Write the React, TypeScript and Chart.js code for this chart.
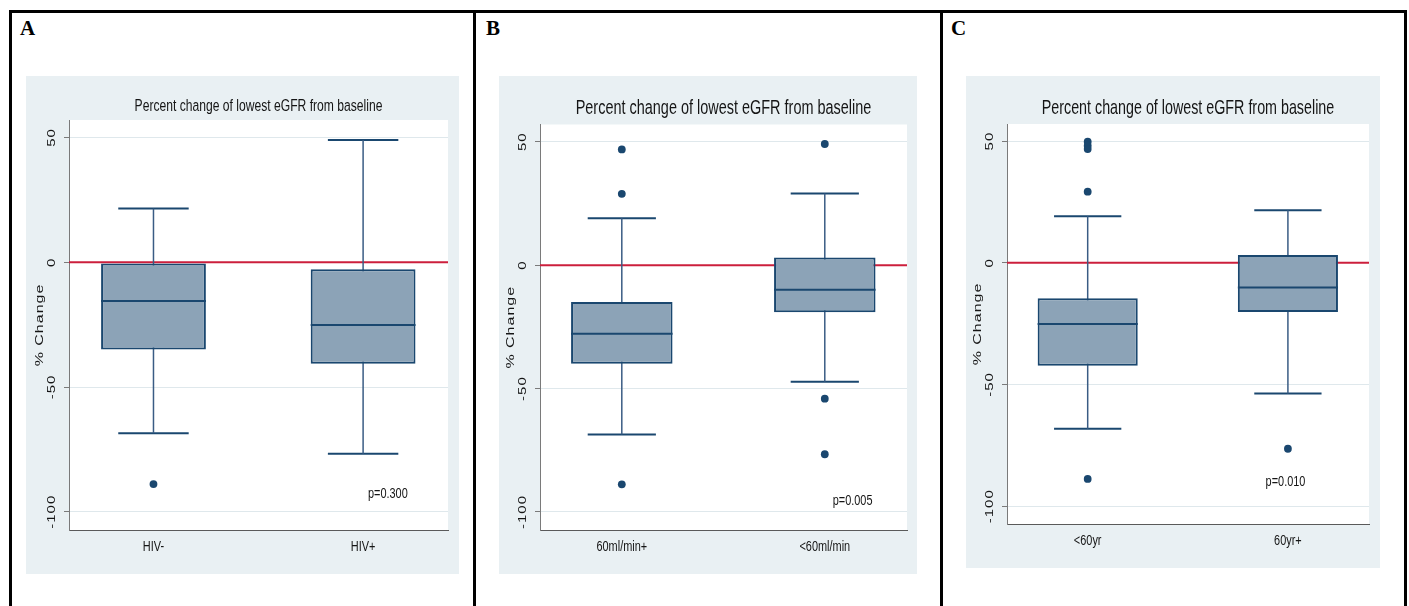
import React, { useEffect, useRef } from 'react';
import { Chart, registerables } from 'chart.js';

Chart.register(...registerables);

// ---------- data ----------
const TITLE = 'Percent change of lowest eGFR from baseline';
const Y_AXIS_TITLE = '% Change';
const Y_TICKS = [50, 0, -50, -100];
const REFERENCE_VALUE = 0;

const A_GROUPS = ['HIV-', 'HIV+'];
const A_UPPER = [21.5, 49.0];
const A_Q3 = [-0.5, -2.8];
const A_MEDIAN = [-15.5, -25.2];
const A_Q1 = [-35.0, -40.7];
const A_LOWER = [-68.5, -76.7];
const A_OUTLIERS = [[-88.9], []];
const A_P = 'p=0.300';

const B_GROUPS = ['60ml/min+', '<60ml/min'];
const B_UPPER = [19.0, 29.0];
const B_Q3 = [-14.9, 3.1];
const B_MEDIAN = [-27.8, -10.0];
const B_Q1 = [-39.9, -19.1];
const B_LOWER = [-68.6, -47.2];
const B_OUTLIERS = [[46.9, 28.9, -88.8], [49.1, -54.1, -76.6]];
const B_P = 'p=0.005';

const C_GROUPS = ['<60yr', '60yr+'];
const C_UPPER = [19.1, 21.6];
const C_Q3 = [-14.6, 3.2];
const C_MEDIAN = [-25.1, -10.2];
const C_Q1 = [-42.3, -20.2];
const C_LOWER = [-68.2, -53.7];
const C_OUTLIERS = [[49.7, 48.1, 46.7, 29.2, -88.8], [-76.4]];
const C_P = 'p=0.010';

// ---------- styles / layout ----------
const X_MIN = 0.597;
const X_MAX = 2.405;
const Y_MIN = -107.3;
const Y_MAX = 57;
const BOX_HALF = 0.25;
const CAP_HALF = 0.168;

const BG = '#e9f0f3';
const GRID = '#dfe8ec';
const NAVY = '#1a476f';
const WHISKER = '#3a5c84';
const FILL = '#8ca3b7';
const RED = '#cc1f3c';
const TEXT = '#151515';
const FONT = '"Liberation Sans", Arial, sans-serif';
const SQUEEZE = 0.705;

type PanelCfg = {
  letter: string;
  groups: string[];
  upper: number[];
  q3: number[];
  median: number[];
  q1: number[];
  lower: number[];
  outliers: number[][];
  pText: string;
  pPos: { x: number; y: number };
  rect: { left: number; top: number; w: number; h: number };
  yAxisW: number;
  xAxisH: number;
  padTop: number;
  padRight: number;
  titleSize: number;
  titleGap: number;
  letterLeft: number;
};

const PANELS: PanelCfg[] = [
  {
    letter: 'A', groups: A_GROUPS, upper: A_UPPER, q3: A_Q3, median: A_MEDIAN, q1: A_Q1, lower: A_LOWER,
    outliers: A_OUTLIERS, pText: A_P, pPos: { x: 2.118, y: -92.6 },
    rect: { left: 26, top: 76, w: 433, h: 498 }, yAxisW: 43, xAxisH: 44, padTop: 44, padRight: 11,
    titleSize: 17.2, titleGap: 14, letterLeft: 20,
  },
  {
    letter: 'B', groups: B_GROUPS, upper: B_UPPER, q3: B_Q3, median: B_MEDIAN, q1: B_Q1, lower: B_LOWER,
    outliers: B_OUTLIERS, pText: B_P, pPos: { x: 2.137, y: -95.5 },
    rect: { left: 499, top: 76, w: 418, h: 498 }, yAxisW: 41, xAxisH: 44, padTop: 48.5, padRight: 10,
    titleSize: 20.5, titleGap: 16, letterLeft: 486,
  },
  {
    letter: 'C', groups: C_GROUPS, upper: C_UPPER, q3: C_Q3, median: C_MEDIAN, q1: C_Q1, lower: C_LOWER,
    outliers: C_OUTLIERS, pText: C_P, pPos: { x: 1.988, y: -90.0 },
    rect: { left: 966, top: 76, w: 414, h: 492 }, yAxisW: 41, xAxisH: 44, padTop: 48, padRight: 11,
    titleSize: 20.3, titleGap: 15.5, letterLeft: 951,
  },
];

function drawText(
  ctx: CanvasRenderingContext2D, text: string, x: number, y: number, size: number,
  rotated = false, spacing = 0,
) {
  ctx.save();
  ctx.translate(x, y);
  if (rotated) {
    ctx.rotate(-Math.PI / 2);
    ctx.scale(1, SQUEEZE);
  } else {
    ctx.scale(SQUEEZE, 1);
  }
  ctx.font = `${size}px ${FONT}`;
  (ctx as any).letterSpacing = `${spacing}px`;
  ctx.textAlign = 'center';
  ctx.textBaseline = 'middle';
  ctx.fillStyle = TEXT;
  ctx.fillText(text, 0, 0);
  ctx.restore();
}

function seg(x1: number, y1: number, x2: number, y2: number, color: string, width: number, order: number) {
  return {
    type: 'line' as const,
    data: [{ x: x1, y: y1 }, { x: x2, y: y2 }],
    borderColor: color,
    borderWidth: width,
    pointRadius: 0,
    pointHoverRadius: 0,
    tension: 0,
    fill: false,
    order,
  };
}

function Panel({ cfg }: { cfg: PanelCfg }) {
  const ref = useRef<HTMLCanvasElement>(null);
  useEffect(() => {
    const canvas = ref.current!;
    const datasets: any[] = [];
    datasets.push(seg(X_MIN, REFERENCE_VALUE, X_MAX, REFERENCE_VALUE, RED, 2, 20));
    cfg.groups.forEach((_, i) => {
      const c = i + 1;
      datasets.push(seg(c, cfg.lower[i], c, cfg.upper[i], WHISKER, 1.5, 15));
      datasets.push(seg(c - CAP_HALF, cfg.upper[i], c + CAP_HALF, cfg.upper[i], NAVY, 2, 15));
      datasets.push(seg(c - CAP_HALF, cfg.lower[i], c + CAP_HALF, cfg.lower[i], NAVY, 2, 15));
      datasets.push(seg(c - BOX_HALF, cfg.median[i], c + BOX_HALF, cfg.median[i], NAVY, 2, 5));
    });
    datasets.push({
      type: 'bar',
      data: cfg.groups.map((_, i) => ({ x: i + 1, y: [cfg.q1[i], cfg.q3[i]] })),
      backgroundColor: FILL,
      borderColor: NAVY,
      borderWidth: 2,
      borderSkipped: false,
      barPercentage: BOX_HALF * 2,
      categoryPercentage: 1,
      order: 10,
    });
    datasets.push({
      type: 'scatter',
      data: cfg.outliers.flatMap((vals, i) => vals.map((v) => ({ x: i + 1, y: v }))),
      backgroundColor: NAVY,
      borderWidth: 0,
      pointRadius: 3.9,
      pointHoverRadius: 3.9,
      order: 1,
    });

    const bgPlugin = {
      id: 'stataBg',
      beforeDraw(chart: any) {
        const { ctx, chartArea, width, height } = chart;
        ctx.save();
        ctx.fillStyle = BG;
        ctx.fillRect(0, 0, width, height);
        ctx.fillStyle = '#ffffff';
        ctx.fillRect(chartArea.left, chartArea.top, chartArea.right - chartArea.left, chartArea.bottom - chartArea.top);
        ctx.restore();
      },
    };
    const textPlugin = {
      id: 'stataText',
      afterDraw(chart: any) {
        const { ctx, chartArea } = chart;
        const xs = chart.scales.x;
        const ys = chart.scales.y;
        const cx = (chartArea.left + chartArea.right) / 2;
        const cy = (chartArea.top + chartArea.bottom) / 2;
        drawText(ctx, TITLE, cx, chartArea.top - cfg.titleGap, cfg.titleSize);
        Y_TICKS.forEach((v) => {
          drawText(ctx, String(v), chartArea.left - 17, ys.getPixelForValue(v), 15, true, 1);
        });
        drawText(ctx, Y_AXIS_TITLE, chartArea.left - 29, cy, 16, true, 1);
        cfg.groups.forEach((g, i) => {
          drawText(ctx, g, xs.getPixelForValue(i + 1), chartArea.bottom + 17, 15.5);
        });
        drawText(ctx, cfg.pText, xs.getPixelForValue(cfg.pPos.x), ys.getPixelForValue(cfg.pPos.y), 15.5);
      },
    };

    const chart = new Chart(canvas, {
      type: 'bar',
      data: { datasets },
      options: {
        animation: false,
        responsive: false,
        devicePixelRatio: 1,
        events: [],
        layout: { padding: { top: cfg.padTop, right: cfg.padRight, left: 0, bottom: 0 } },
        plugins: { legend: { display: false }, tooltip: { enabled: false }, title: { display: false } },
        scales: {
          x: {
            type: 'linear',
            min: X_MIN,
            max: X_MAX,
            offset: false,
            grid: { display: false, offset: false },
            border: { display: true, color: '#5a5a5a', width: 1 },
            ticks: { display: false },
            afterBuildTicks: (scale: any) => {
              scale.ticks = cfg.groups.map((_, i) => ({ value: i + 1 }));
            },
            afterFit: (scale: any) => {
              scale.height = cfg.xAxisH;
            },
          },
          y: {
            type: 'linear',
            min: Y_MIN,
            max: Y_MAX,
            grid: { display: true, color: GRID, lineWidth: 1, drawTicks: true, tickLength: 5, tickColor: '#7a7a7a' },
            border: { display: true, color: '#7a7a7a', width: 1 },
            ticks: { display: false },
            afterBuildTicks: (scale: any) => {
              scale.ticks = Y_TICKS.map((v) => ({ value: v }));
            },
            afterFit: (scale: any) => {
              scale.width = cfg.yAxisW;
            },
          },
        },
      } as any,
      plugins: [bgPlugin, textPlugin],
    });
    return () => chart.destroy();
  }, [cfg]);

  const { left, top, w, h } = cfg.rect;
  return (
    <canvas
      ref={ref}
      width={w}
      height={h}
      style={{ position: 'absolute', left, top, width: w, height: h, display: 'block' }}
    />
  );
}

const line = (left: number, top: number, width: number, height: number) => (
  <div style={{ position: 'absolute', left, top, width, height, background: '#000' }} />
);

export default function App() {
  return (
    <div>
      {line(9, 10, 1398, 3)}
      {line(9, 10, 3, 596)}
      {line(473, 10, 3, 596)}
      {line(940, 10, 3, 596)}
      {line(1404, 10, 3, 596)}
      {PANELS.map((p) => (
        <React.Fragment key={p.letter}>
          <div
            style={{
              position: 'absolute',
              left: p.letterLeft,
              top: 18,
              font: 'bold 21px "Liberation Serif", "Times New Roman", serif',
              lineHeight: '21px',
              color: '#000',
            }}
          >
            {p.letter}
          </div>
          <Panel cfg={p} />
        </React.Fragment>
      ))}
    </div>
  );
}
